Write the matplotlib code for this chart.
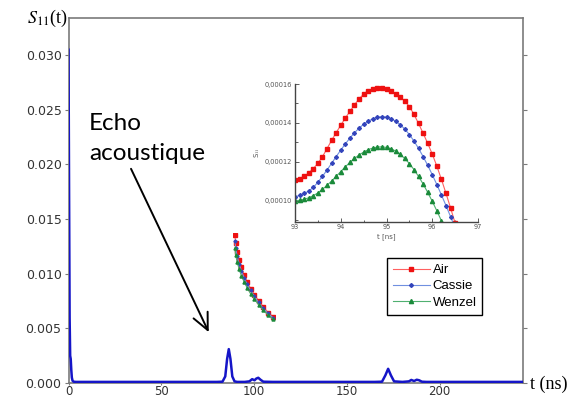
import matplotlib
matplotlib.use("Agg")
import matplotlib.pyplot as plt
from matplotlib.ticker import FormatStrFormatter, MultipleLocator, FuncFormatter

plt.rcParams['mathtext.fontset'] = 'stix'

# signal principal S11(t)
t_main = [0, 0.3, 0.6, 0.9, 1.2, 1.5, 1.8, 2.2, 2.8, 4, 10, 30, 50, 70, 80,
          83, 84.5, 85.5, 86.4, 87.3, 88.3, 89.5, 91, 95, 97.5, 99, 100.3,
          101.2, 102.3, 103.5, 105, 110, 130, 150, 165, 169, 170.8, 172.3,
          173.8, 175.5, 180, 183.5, 184.8, 186.3, 187.7, 189, 190.5, 193,
          210, 230, 246]
s_main = [0.0305, 0.018, 0.006, 0.0025, 0.0022, 0.0012, 0.0005, 0.0002,
          0.00012, 0.0001, 0.0001, 0.0001, 0.0001, 0.0001, 0.0001,
          0.00012, 0.0006, 0.0022, 0.0031, 0.0022, 0.0006, 0.00015, 0.0001,
          0.0001, 0.00015, 0.00035, 0.00025, 0.0004, 0.00048, 0.0003,
          0.00012, 0.0001, 0.0001, 0.0001, 0.0001, 0.00012, 0.0007, 0.0013,
          0.0007, 0.00015, 0.0001, 0.00015, 0.00028, 0.00018, 0.0003,
          0.00025, 0.00012, 0.0001, 0.0001, 0.0001, 0.0001]

# zoom autour de l'echo (x 1e-6)
t_zoom = [93.0, 93.1, 93.2, 93.3, 93.4, 93.5, 93.6, 93.7, 93.8, 93.9,
          94.0, 94.1, 94.2, 94.3, 94.4, 94.5, 94.6, 94.7, 94.8, 94.9,
          95.0, 95.1, 95.2, 95.3, 95.4, 95.5, 95.6, 95.7, 95.8, 95.9,
          96.0, 96.1, 96.2, 96.3, 96.4, 96.5]
air = [110.6, 111.4, 112.6, 114.3, 116.5, 119.2, 122.6, 126.8, 131.0, 135.0,
       138.8, 142.5, 145.9, 149.3, 152.3, 154.8, 156.6, 157.6, 157.9, 157.8,
       157.3, 156.4, 155.0, 153.2, 151.2, 148.4, 144.4, 139.7, 134.7, 129.5,
       124.0, 117.8, 111.0, 103.8, 96.3, 88.5]
cassie = [102.0, 102.7, 103.7, 105.0, 106.8, 109.5, 112.5, 115.8, 119.2, 122.7,
          126.0, 129.2, 132.2, 134.9, 137.3, 139.3, 140.9, 142.1, 142.9, 143.2,
          143.0, 142.2, 140.9, 139.1, 136.8, 134.0, 130.7, 126.9, 122.7, 118.2,
          113.4, 108.3, 103.0, 97.5, 91.8, 86.0]
wenzel = [100.0, 100.2, 100.7, 101.5, 102.6, 104.0, 105.8, 107.9, 110.1, 112.5,
          115.0, 117.4, 119.7, 121.7, 123.5, 125.0, 126.2, 127.1, 127.6, 127.7,
          127.4, 126.7, 125.5, 123.8, 121.7, 119.1, 116.0, 112.5, 108.6, 104.3,
          99.7, 94.8, 89.7, 84.4, 80.0, 76.0]

# fragment fantome de l'insert
ghost_u = [0, 2, 6, 11, 17, 24, 32, 41, 51, 62, 74, 87, 100]
ghost_red = [100, 90, 80, 71, 62, 53, 45, 37, 30, 23, 16, 9, 4]
ghost_blue = [93, 84, 75, 66, 58, 50, 42, 35, 28, 21, 14, 8, 3]
ghost_green = [84, 76, 68, 60, 52, 45, 38, 31, 25, 18, 12, 6, 1]

W, H = 581, 398
fig = plt.figure(figsize=(W / 100, H / 100), dpi=100)

def box(x0, y0, x1, y1):
    return [x0 / W, 1 - y1 / H, (x1 - x0) / W, (y1 - y0) / H]

grey = '#7a7a7a'
ax = fig.add_axes(box(68.5, 18, 523, 383))
ax.plot(t_main, s_main, color='#1515c8', lw=1.8, zorder=3)
ax.set_xlim(0, 245)
ax.set_ylim(0, 0.0334)
ax.set_xticks([0, 50, 100, 150, 200])
ax.set_yticks([0, 0.005, 0.01, 0.015, 0.02, 0.025, 0.03])
ax.yaxis.set_major_formatter(FormatStrFormatter('%.3f'))
ax.tick_params(axis='both', labelsize=9, labelcolor='#333333', color=grey,
               length=3, width=0.8, pad=2)
ax.tick_params(axis='x', labelsize=8.5, length=1.5, pad=0)
ax.tick_params(axis='y', right=True, labelright=False)
for side in ['left', 'right', 'top', 'bottom']:
    ax.spines[side].set_color(grey)
    ax.spines[side].set_linewidth(1.2)

fig.text(530 / W, 1 - 384 / H, 't (ns)', family='Liberation Serif',
         fontsize=13, va='center', ha='left')
fig.text(27 / W, 1 - 18 / H, r'$S_{11}$(t)', family='Liberation Serif',
         fontsize=13, va='center', ha='left')

# texte et fleche
fig.text(89 / W, 1 - 130 / H, 'Echo', family='Lato', fontsize=17.5, va='baseline')
fig.text(89 / W, 1 - 160 / H, 'acoustique', family='Lato', fontsize=17.5,
         va='baseline')
ax.annotate('', xy=(75.6, 0.00465), xytext=(33.7, 0.0196),
            arrowprops=dict(arrowstyle='->,head_length=0.6,head_width=0.28',
                            mutation_scale=20, lw=1.4, color='black',
                            shrinkA=0, shrinkB=0))

# insert
ins = fig.add_axes(box(295, 84, 478, 221.7))
ins.patch.set_alpha(0)
sc = 1e-6
la, = ins.plot(t_zoom, [v * sc for v in air], '-', color='#ff6060', lw=0.8,
               marker='s', ms=3.2, mfc='#ee1111', mec='#ee1111', label='Air')
lb, = ins.plot(t_zoom, [v * sc for v in cassie], '-', color='#7090e0', lw=0.8,
               marker='D', ms=2.0, mfc='#3344bb', mec='#3344bb', label='Cassie')
lc, = ins.plot(t_zoom, [v * sc for v in wenzel], '-', color='#50b070', lw=0.8,
               marker='^', ms=3.0, mfc='#1a8a3a', mec='#1a8a3a', label='Wenzel')
ins.set_xlim(93, 97)
ins.set_ylim(0.0000892, 0.00016)
ins.set_xticks([93, 94, 95, 96, 97])
ins.set_yticks([0.0001, 0.00012, 0.00014, 0.00016])
ins.xaxis.set_minor_locator(MultipleLocator(0.5))
ins.yaxis.set_minor_locator(MultipleLocator(0.00001))
ins.yaxis.set_major_formatter(FuncFormatter(lambda v, p: ('%.5f' % v).replace('.', ',')))
ins.tick_params(which='both', direction='in', labelsize=4.8, labelcolor='#555555',
                color='#444444', width=0.6, pad=2)
ins.tick_params(which='major', length=3)
ins.tick_params(which='minor', length=1.8)
ins.spines['top'].set_visible(False)
ins.spines['right'].set_visible(False)
ins.spines['left'].set_color('#444444')
ins.spines['bottom'].set_color('#444444')
ins.spines['left'].set_linewidth(1.0)
ins.spines['bottom'].set_linewidth(1.0)
ins.set_xlabel('t [ns]', fontsize=5, color='#555555', labelpad=2)
ins.set_ylabel(r'S$_{11}$', fontsize=5, color='#555555', labelpad=2)

fig.legend(handles=[la, lb, lc], loc='upper left',
           bbox_to_anchor=(387 / W, 1 - 258 / H),
           prop={'family': 'Liberation Sans', 'size': 9.5},
           fancybox=False, edgecolor='black', framealpha=1, handlelength=2.8,
           numpoints=1, borderpad=0.45, labelspacing=0.3, handletextpad=0.2,
           borderaxespad=0)

# fragment fantome
gh = fig.add_axes(box(233, 233, 275, 322))
gh.axis('off')
gh.plot(ghost_u, ghost_red, '-', color='#ff6060', lw=0.8, marker='s', ms=2.2,
        mfc='#ee1111', mec='#ee1111')
gh.plot(ghost_u, ghost_blue, '-', color='#7090e0', lw=0.8, marker='D', ms=1.6,
        mfc='#3344bb', mec='#3344bb')
gh.plot(ghost_u, ghost_green, '-', color='#50b070', lw=0.8, marker='^', ms=2.2,
        mfc='#1a8a3a', mec='#1a8a3a')
gh.set_xlim(-5, 105)
gh.set_ylim(-2, 102)

fig.savefig('out.png', dpi=100)
